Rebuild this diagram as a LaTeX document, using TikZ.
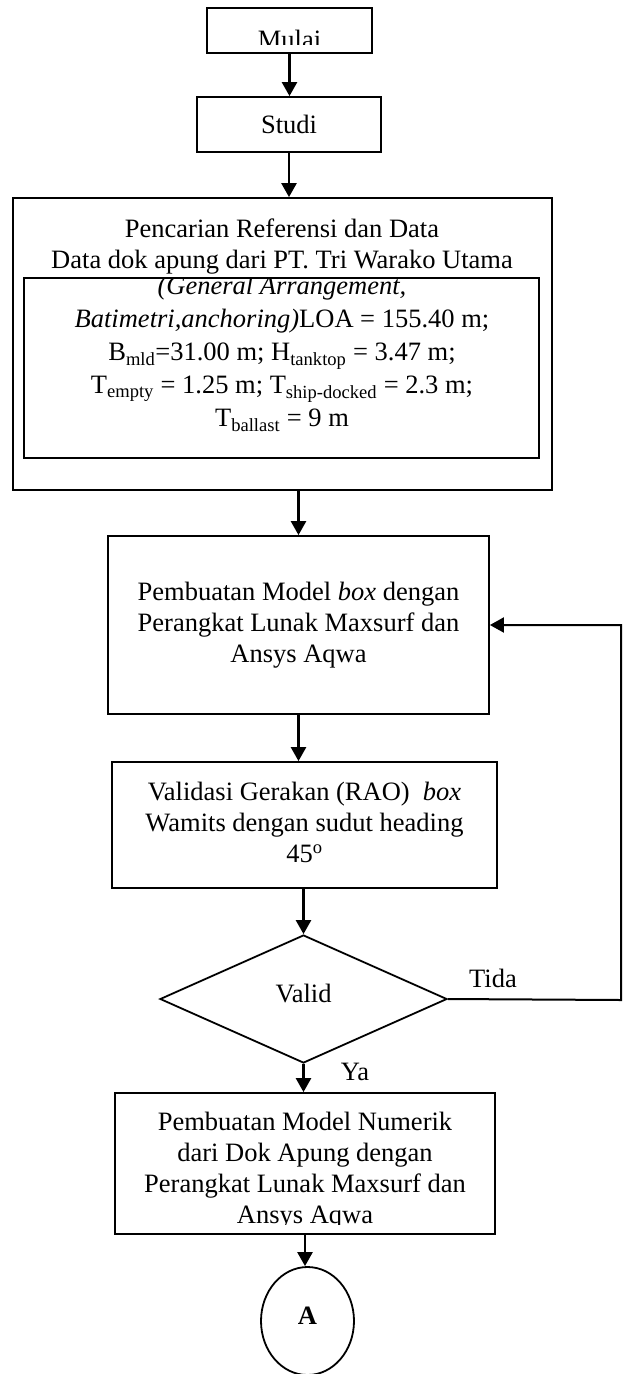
\documentclass[tikz,border=0pt]{standalone}
\usepackage{fontspec}
\setmainfont{Liberation Serif}
\usetikzlibrary{arrows.meta,shapes.geometric}
\begin{document}
\begin{tikzpicture}[x=1pt, y=-1pt,
  every node/.style={font=\fontsize{26.5}{31}\selectfont, inner sep=0pt, align=center},
  kotak/.style={draw, line width=1.8pt, rectangle},
  panah/.style={line width=2.5pt, -{Triangle[width=15pt,length=14pt]}}]
  \useasboundingbox (0,0) rectangle (624,1374);
  % Mulai
  \node[kotak, minimum width=165pt, minimum height=45pt] (mulai) at (289.5,30.5) {};
  \begin{scope}
    \clip (mulai.north west) rectangle ([yshift=9pt]mulai.south east);
    \node (mulaiteks) at (289.5,39) {Mulai};
  \end{scope}
  % Studi
  \node[kotak, minimum width=184pt, minimum height=55pt] (studi) at (289,124.5) {Studi};
  % Pencarian referensi dan data
  \node[kotak, minimum width=539pt, minimum height=292pt] (ref) at (282.5,344) {};
  \node (refjudul) at (282,247) {Pencarian Referensi dan Data\\Data dok apung dari PT. Tri Warako Utama};
  \node[kotak, minimum width=515pt, minimum height=180pt] (data) at (281.5,368) {};
  \begin{scope}
    \clip (data.north west) rectangle (data.south east);
    \node[font=\fontsize{26.5}{33}\selectfont] (datateks) at (282,354)
      {\textit{(General Arrangement,}\\
       \textit{Batimetri,anchoring)}LOA = 155.40 m;\\
       B\textsubscript{mld}=31.00 m; H\textsubscript{tanktop} = 3.47 m;\\
       T\textsubscript{empty} = 1.25 m; T\textsubscript{ship-docked} = 2.3 m;\\
       T\textsubscript{ballast} = 9 m};
  \end{scope}
  % Model box
  \node[kotak, minimum width=381pt, minimum height=178pt] (model) at (298.5,625)
    {Pembuatan Model \textit{box} dengan\\Perangkat Lunak Maxsurf dan\\Ansys Aqwa};
  % Validasi RAO
  \node[kotak, minimum width=385pt, minimum height=126pt] (rao) at (304.5,825)
    {\raisebox{4pt}{\begin{tabular}{@{}c@{}}Validasi Gerakan (RAO)~~\textit{box}\\Wamits dengan sudut heading\\45\textsuperscript{o}\end{tabular}}};
  % Keputusan
  \node[draw, diamond, line width=1.8pt, minimum width=287pt, minimum height=128pt] (valid) at (303.5,999)
    {\raisebox{11pt}{Valid}};
  \node (tida) at (493,978) {Tida};
  \node (ya) at (355,1072) {Ya};
  \coordinate (balik) at (621,1000);
  % Model numerik
  \node[kotak, minimum width=380pt, minimum height=141pt] (numerik) at (305,1163.5) {};
  \begin{scope}
    \clip (numerik.north west) rectangle ([yshift=10pt]numerik.south east);
    \node (numerikteks) at (305,1171) {Pembuatan Model Numerik\\dari Dok Apung dengan\\Perangkat Lunak Maxsurf dan\\Ansys Aqwa};
  \end{scope}
  % Penghubung A
  \node[draw, ellipse, line width=1.8pt, minimum width=93pt, minimum height=108pt] (a) at (307.5,1321)
    {\raisebox{10pt}{\textbf{A}}};
  % Panah
  \draw[panah] (mulai.south) -- (mulai.south |- studi.north);
  \draw[panah] (studi.south) -- (studi.south |- ref.north);
  \draw[panah] (model.north |- ref.south) -- (model.north);
  \draw[panah] (model.south) -- (model.south |- rao.north);
  \draw[panah] (valid.north |- rao.south) -- (valid.north);
  \draw[panah] (valid.south) -- (valid.south |- numerik.north);
  \draw[panah] (numerik.south) -- (numerik.south |- a.north);
  \draw[line width=2pt, -{Triangle[width=15pt,length=14pt]}] (valid.east) -- (balik) |- (model.east);
\end{tikzpicture}
\end{document}
